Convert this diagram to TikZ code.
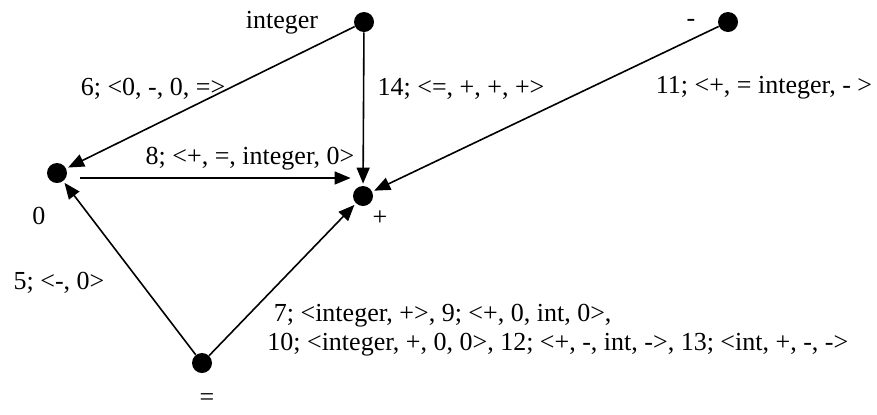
\documentclass[tikz,border=0pt]{standalone}
\usepackage{fontspec}
\setmainfont{Liberation Serif}
\usetikzlibrary{positioning,arrows.meta}

\begin{document}
\begin{tikzpicture}[x=0.5pt,y=-0.5pt,
   font=\fontsize{13}{14.5}\selectfont,
   dot/.style={circle,fill=black,minimum size=10pt,inner sep=0pt},
   lbl/.style={inner sep=0pt},
   arr/.style={-{Triangle[length=8pt,width=6.5pt]},line width=0.8pt,shorten >=1pt}]
 \useasboundingbox (0,0) rectangle (877,414);
 % vertices
 \node[dot] (vint) at (364,22) {};
 \node[dot] (vmin) at (728,22) {};
 \node[dot] (vzero) at (57,173) {};
 \node[dot] (vplus) at (363,196) {};
 \node[dot] (veq) at (202,363) {};
 % vertex names
 \node[lbl] (tint) at (282,23) {integer};
 \node[lbl] (tmin) at (691,23) {-};
 \node[lbl] (tzero) at (39,216) {0};
 \node[lbl] (tplus) at (380,218) {+};
 \node[lbl] (teq) at (207,400) {=};
 % edges
 \draw[arr] (vint) -- (vzero);
 \draw[arr] (vint) -- (vplus);
 \draw[arr] (vmin) -- (vplus);
 \draw[arr] ([shift={(6.5pt,-2.5pt)}]vzero.east) -- ([yshift=-2.5pt]vzero.east -| vplus.west);
 \draw[arr] (veq) -- (vzero);
 \draw[arr] (veq) -- (vplus);
 % edge labels
 \node[lbl] (l6) at (153,89) {6; <0, -, 0, =>};
 \node[lbl] (l14) at (461,89) {14; <=, +, +, +>};
 \node[lbl] (l11) at (764,88) {11; <+, = integer, - >};
 \node[lbl] (l8) at (250,159) {8; <+, =, integer, 0>};
 \node[lbl] (l5) at (59,283) {5; <-, 0>};
 \node[lbl,align=left,anchor=west] (l7) at (267,330)
   {\ 7; <integer, +>, 9; <+, 0, int, 0>,\\10; <integer, +, 0, 0>, 12; <+, -, int, ->, 13; <int, +, -, ->};
\end{tikzpicture}
\end{document}
